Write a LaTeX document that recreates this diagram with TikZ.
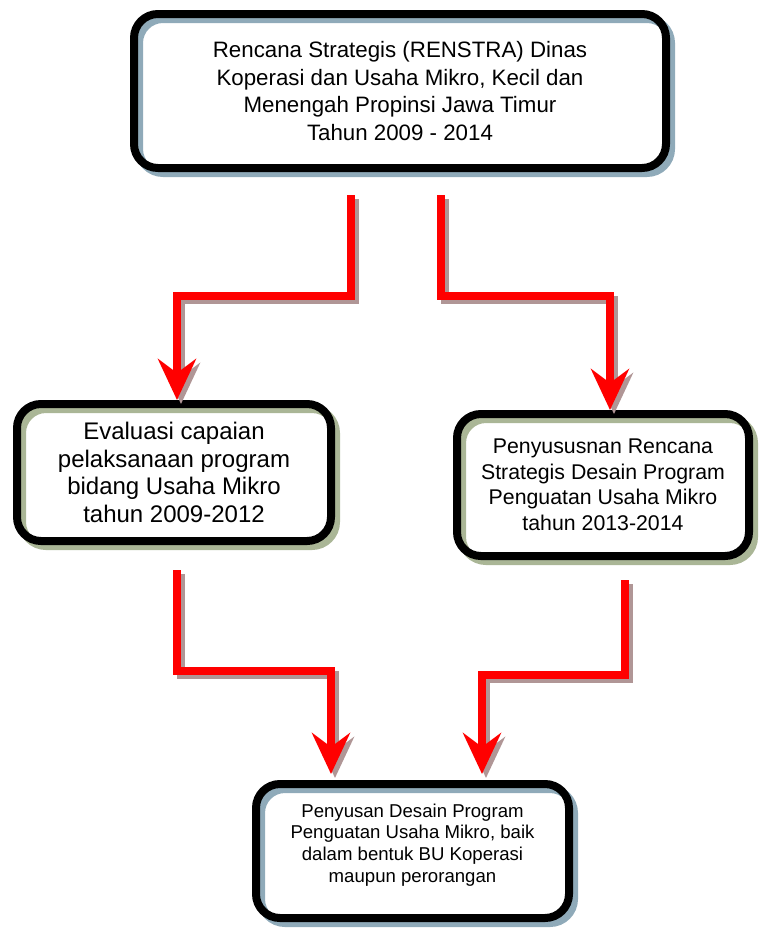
\documentclass[tikz,border=0pt]{standalone}
\usepackage{fontspec}
\setmainfont{Liberation Sans}
\usetikzlibrary{arrows.meta}
\definecolor{shadeblue}{HTML}{8FAAB9}
\definecolor{shadegreen}{HTML}{AAB696}
\definecolor{shadearrow}{HTML}{B09696}
\definecolor{flowred}{HTML}{FF0000}
\begin{document}
\begin{tikzpicture}[x=1pt, y=-1pt,
  box/.style={draw=black, line width=8pt, rounded corners=24pt, align=center, inner sep=0pt},
  boxshade/.style={preaction={draw=#1, transform canvas={xshift=5pt, yshift=-5pt}}},
  flow/.style={draw=#1, line width=8pt, -{Stealth[length=41pt, width=38pt, inset=14pt]}}]
\useasboundingbox (0,0) rectangle (765,929);
\node [box, boxshade=shadeblue, minimum width=532pt, minimum height=154pt, font=\fontsize{22.3}{27.6}\selectfont] (renstra) at (400,91)
  {Rencana Strategis (RENSTRA) Dinas\\Koperasi dan Usaha Mikro, Kecil dan\\Menengah Propinsi Jawa Timur\\Tahun 2009 - 2014};
\node [box, boxshade=shadegreen, minimum width=314pt, minimum height=137pt, font=\fontsize{24}{27.5}\selectfont] (evaluasi) at (174,472.5)
  {Evaluasi capaian\\pelaksanaan program\\bidang Usaha Mikro\\tahun 2009-2012};
\node [box, boxshade=shadegreen, minimum width=292pt, minimum height=142pt, font=\fontsize{21.3}{25.5}\selectfont] (susun) at (603,485)
  {Penyususnan Rencana\\Strategis Desain Program\\Penguatan Usaha Mikro\\tahun 2013-2014};
\node [box, boxshade=shadeblue, minimum width=313pt, minimum height=134pt, font=\fontsize{18.6}{21.8}\selectfont] (desain) at (412.5,851)
  {Penyusan Desain Program\\Penguatan Usaha Mikro, baik\\dalam bentuk BU Koperasi\\maupun perorangan\\[-6pt]};
\coordinate (a1) at (351,195);
\coordinate (a1b) at (351,296);
\coordinate (a2) at (441,195);
\coordinate (a2b) at (441,296);
\coordinate (a3) at (177,570);
\coordinate (a3b) at (177,671);
\coordinate (a4) at (625,580);
\coordinate (a4b) at (625,675);
\foreach \col/\d in {shadearrow/4, flowred/0} {
\begin{scope}[transform canvas={xshift=\d pt, yshift=-\d pt}]
\draw [flow=\col] (a1) -- (a1b) -| ([xshift=3pt]evaluasi.north);
\draw [flow=\col] (a2) -- (a2b) -| ([xshift=7pt]susun.north);
\draw [flow=\col] (a3) -- (a3b) -| ([xshift=-81.5pt, yshift=6pt]desain.north);
\draw [flow=\col] (a4) -- (a4b) -| ([xshift=69.5pt, yshift=6pt]desain.north);
\end{scope}
}
\end{tikzpicture}
\end{document}
